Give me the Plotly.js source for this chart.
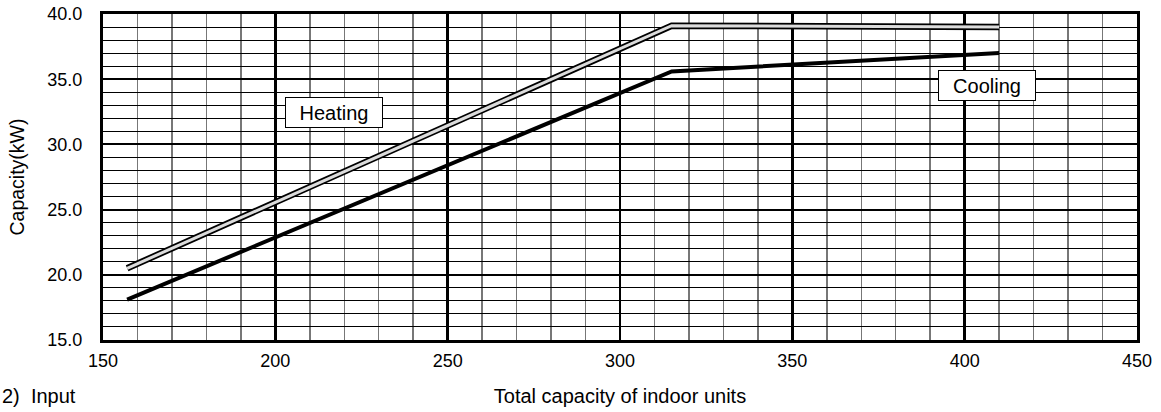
<!DOCTYPE html>
<html>
<head>
<meta charset="utf-8">
<script src="https://cdn.plot.ly/plotly-3.0.1.min.js"></script>
<style>body{margin:0;padding:0;background:#fff}#chart{width:1161px;height:412px}</style>
</head>
<body>
<div id="chart"></div>
<script>
const heatingX = [157, 315, 410];
const heatingY = [20.5, 39.1, 39.0];
const coolingX = [157, 315, 410];
const coolingY = [18.1, 35.6, 37.0];
const xTicks = [150, 200, 250, 300, 350, 400, 450];
const yTicks = [15, 20, 25, 30, 35, 40];

const fam = 'Liberation Sans, Arial, sans-serif';
const tickFont = {family: fam, size: 18, color: '#000'};
const labelFont = {family: fam, size: 20, color: '#000'};
const xTitleFont = {family: fam, size: 20, color: '#000'};
const yTitleFont = {family: fam, size: 19.5, color: '#000'};

const traces = [
  {x: heatingX, y: heatingY, mode: 'lines', line: {color: '#000', width: 6.5}, hoverinfo: 'skip'},
  {x: heatingX, y: heatingY, mode: 'lines', line: {color: '#dcdcdc', width: 3}, hoverinfo: 'skip'},
  {x: coolingX, y: coolingY, mode: 'lines', line: {color: '#000', width: 4}, hoverinfo: 'skip'}
];

const layout = {
  width: 1161, height: 412,
  margin: {l: 103, r: 24, t: 14, b: 72},
  paper_bgcolor: '#fff', plot_bgcolor: '#fff',
  showlegend: false,
  font: tickFont,
  xaxis: {
    range: [150, 450], tickvals: xTicks, ticktext: xTicks.map(String),
    showgrid: true, gridcolor: '#000', gridwidth: 2.5,
    minor: {dtick: 10, showgrid: true, gridcolor: '#777', gridwidth: 1.5},
    showline: true, linecolor: '#000', linewidth: 3, mirror: true,
    ticks: '', zeroline: false, tickfont: tickFont, ticklabelstandoff: 2,
    title: {text: 'Total capacity of indoor units', font: xTitleFont, standoff: 20}
  },
  yaxis: {
    range: [15, 40], tickvals: yTicks, ticktext: yTicks.map(v => v.toFixed(1)),
    showgrid: true, gridcolor: '#000', gridwidth: 2,
    minor: {dtick: 1, showgrid: true, gridcolor: '#000', gridwidth: 1},
    showline: true, linecolor: '#000', linewidth: 3, mirror: true,
    ticks: '', zeroline: false, tickfont: tickFont, ticklabelstandoff: 14,
    title: {text: 'Capacity(kW)', font: yTitleFont, standoff: 18}
  },
  annotations: [
    {x: 217, y: 32.45, xref: 'x', yref: 'y', text: 'Heating', showarrow: false,
     bgcolor: '#fff', bordercolor: '#000', borderwidth: 1, width: 94, height: 27, font: labelFont},
    {x: 406.6, y: 34.5, xref: 'x', yref: 'y', text: 'Cooling', showarrow: false,
     bgcolor: '#fff', bordercolor: '#000', borderwidth: 1, width: 94, height: 27, font: labelFont},
    {x: -103 / 1034, y: -56 / 326, xref: 'paper', yref: 'paper', text: '2)  Input', showarrow: false,
     xanchor: 'left', yanchor: 'middle', font: labelFont}
  ]
};

Plotly.newPlot('chart', traces, layout, {staticPlot: true});
</script>
</body>
</html>
